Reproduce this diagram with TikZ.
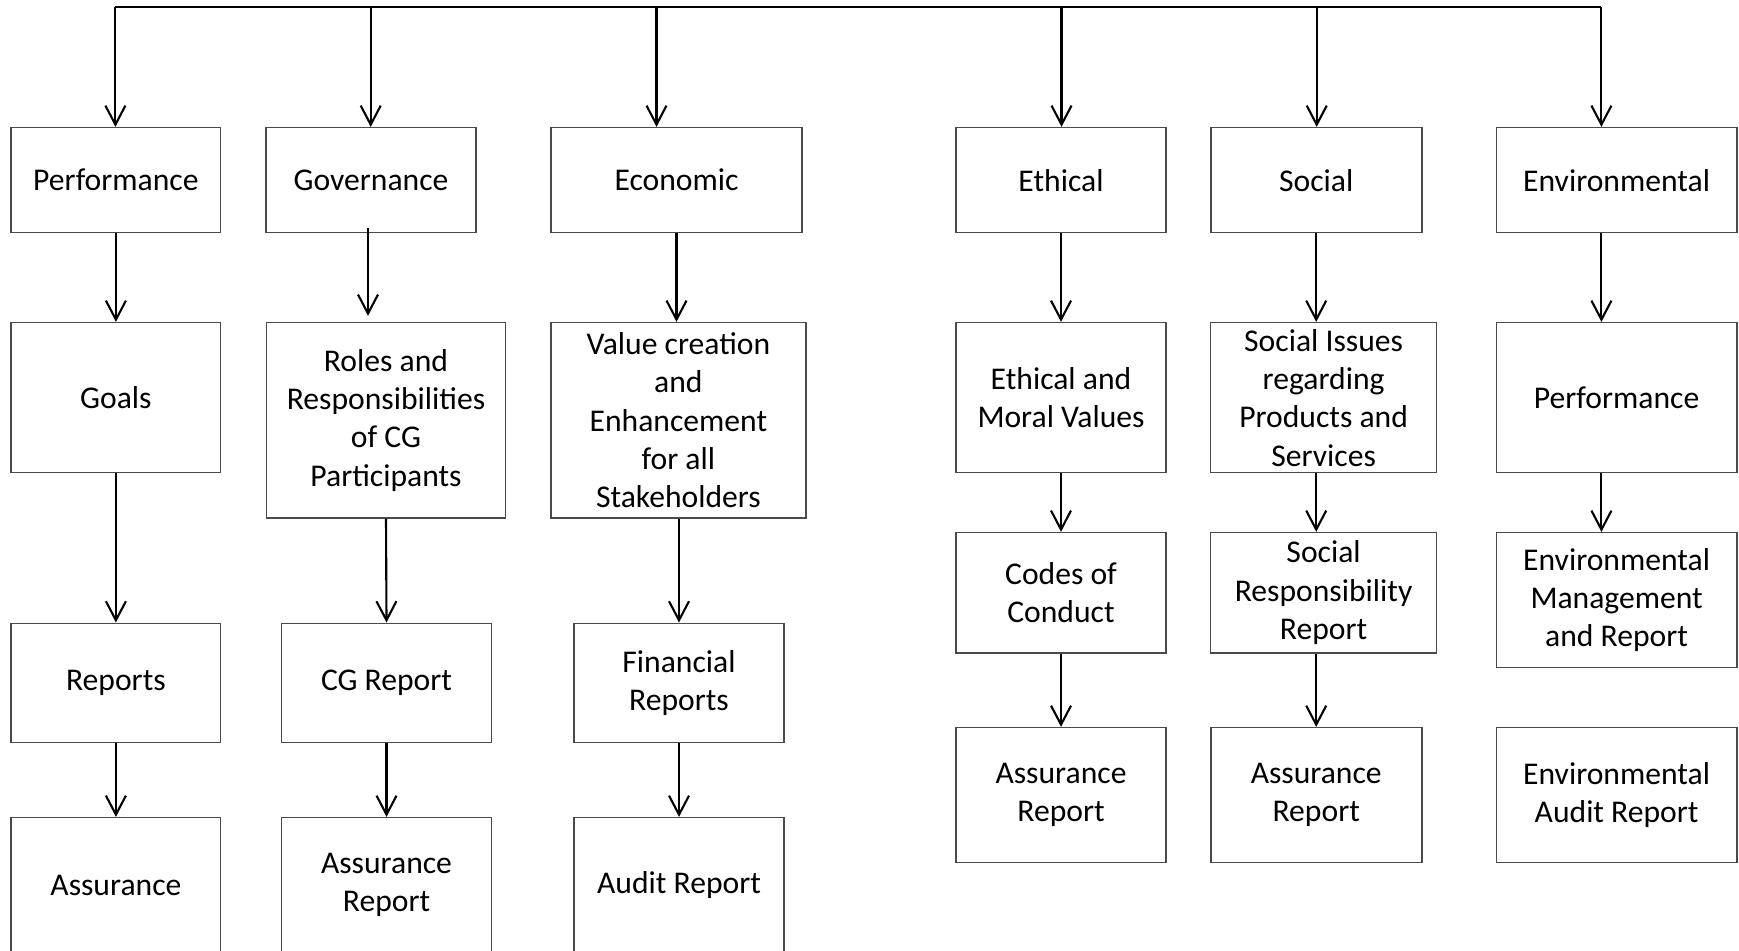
\documentclass[tikz,border=0pt]{standalone}
\usepackage{fontspec}
\setmainfont{Carlito}
\usepackage{tikz}
\usetikzlibrary{arrows.meta}
\usetikzlibrary{positioning}
\definecolor{cr-line}{HTML}{000000}
\definecolor{cr-frame}{HTML}{4A4A4A}

\begin{document}
\begin{tikzpicture}[
    % boxes and connectors
    box/.style={draw=cr-frame, line width=0.45pt, inner sep=0pt, align=center, font=\fontsize{9}{10.9}\selectfont},
    arr/.style={-{Straight Barb[length=1.9mm, width=2mm]}, line width=0.6pt, cr-line},
    busline/.style={line width=0.6pt, cr-line}
  ]
  \useasboundingbox (0,0) rectangle (17.39,-9.51);

  % =========================================================================
  % TOP BUS
  % =========================================================================
  \coordinate (bus1) at (1.154,-0.073);
  \coordinate (bus2) at (3.707,-0.073);
  \coordinate (bus3) at (6.565,-0.073);
  \coordinate (bus4) at (10.615,-0.073);
  \coordinate (bus5) at (13.167,-0.073);
  \coordinate (bus6) at (16.014,-0.073);
  \draw[busline] (bus1) -- (bus6);

  % =========================================================================
  % ROW 1: DIMENSIONS
  % =========================================================================
  \node[box, minimum width=2.096cm, minimum height=1.05cm] (perf) at (1.159,-1.802) {Performance};
  \node[box, minimum width=2.096cm, minimum height=1.05cm] (gov)  at (3.710,-1.802) {Governance};
  \node[box, minimum width=2.506cm, minimum height=1.05cm] (econ) at (6.765,-1.802) {Economic};
  \node[box, minimum width=2.10cm,  minimum height=1.05cm] (eth)  at (10.610,-1.802) {Ethical};
  \node[box, minimum width=2.11cm,  minimum height=1.05cm] (soc)  at (13.162,-1.802) {Social};
  \node[box, minimum width=2.403cm, minimum height=1.05cm] (env)  at (16.166,-1.802) {Environmental};

  % =========================================================================
  % ROW 2
  % =========================================================================
  \node[box, minimum width=2.096cm, minimum height=1.5cm]   (goals)     at (1.159,-3.977) {Goals};
  \node[box, minimum width=2.39cm,  minimum height=1.953cm] (roles)     at (3.860,-4.203) {Roles and\\Responsibilities\\of CG\\Participants};
  \node[box, minimum width=2.548cm, minimum height=1.953cm] (value)     at (6.784,-4.203) {Value creation\\and\\Enhancement\\for all\\Stakeholders};
  \node[box, minimum width=2.10cm,  minimum height=1.5cm]   (ethmoral)  at (10.610,-3.977) {Ethical and\\Moral Values};
  \node[box, minimum width=2.26cm,  minimum height=1.5cm]   (socissues) at (13.236,-3.977) {Social Issues\\regarding\\Products and\\Services};
  \node[box, minimum width=2.403cm, minimum height=1.5cm]   (envperf)   at (16.166,-3.977) {Performance};

  % =========================================================================
  % ROW 3
  % =========================================================================
  \node[box, minimum width=2.096cm, minimum height=1.194cm] (reports) at (1.159,-6.830) {Reports};
  \node[box, minimum width=2.103cm, minimum height=1.194cm] (cgrep)   at (3.865,-6.830) {CG Report};
  \node[box, minimum width=2.103cm, minimum height=1.194cm] (finrep)  at (6.790,-6.830) {Financial\\Reports};
  \node[box, minimum width=2.10cm,  minimum height=1.203cm] (codes)   at (10.610,-5.928) {Codes of\\Conduct};
  \node[box, minimum width=2.26cm,  minimum height=1.203cm] (srr)     at (13.236,-5.928) {Social\\Responsibility\\Report};
  \node[box, minimum width=2.403cm, minimum height=1.35cm]  (emr)     at (16.166,-6.002) {Environmental\\Management\\and Report};

  % =========================================================================
  % ROW 4
  % =========================================================================
  \node[box, minimum width=2.096cm, minimum height=1.35cm] (assur)    at (1.159,-8.852) {Assurance};
  \node[box, minimum width=2.103cm, minimum height=1.35cm] (assurcg)  at (3.865,-8.852) {Assurance\\Report};
  \node[box, minimum width=2.103cm, minimum height=1.35cm] (audit)    at (6.790,-8.852) {Audit Report};
  \node[box, minimum width=2.10cm,  minimum height=1.35cm] (assureth) at (10.610,-7.952) {Assurance\\Report};
  \node[box, minimum width=2.11cm,  minimum height=1.35cm] (assursoc) at (13.162,-7.952) {Assurance\\Report};
  \node[box, minimum width=2.403cm, minimum height=1.35cm] (envaudit) at (16.166,-7.952) {Environmental\\Audit Report};

  % =========================================================================
  % CONNECTORS
  % =========================================================================
  % Drops from the bus
  \draw[arr] (bus1) -- (bus1 |- perf.north);
  \draw[arr] (bus2) -- (bus2 |- gov.north);
  \draw[arr] (bus3) -- (bus3 |- econ.north);
  \draw[arr] (bus4) -- (bus4 |- eth.north);
  \draw[arr] (bus5) -- (bus5 |- soc.north);
  \draw[arr] (bus6) -- (bus6 |- env.north);

  % Performance column
  \draw[arr] (perf.south) -- (goals.north);
  \draw[arr] (goals.south) -- (reports.north);
  \draw[arr] (reports.south) -- (assur.north);

  % Governance column
  \draw[arr, transform canvas={xshift=-0.03cm}, shorten <=-0.05cm, shorten >=0.06cm] (gov.south) -- (gov.south |- roles.north);
  \draw[arr] (roles.south) -- (cgrep.north);
  \draw[arr] (cgrep.south) -- (assurcg.north);

  % Economic column
  \draw[arr] (econ.south) -- (econ.south |- value.north);
  \draw[arr] (finrep.north |- value.south) -- (finrep.north);
  \draw[arr] (finrep.south) -- (audit.north);

  % Ethical column
  \draw[arr] (eth.south) -- (ethmoral.north);
  \draw[arr] (ethmoral.south) -- (codes.north);
  \draw[arr] (codes.south) -- (assureth.north);

  % Social column
  \draw[arr] (soc.south) -- (soc.south |- socissues.north);
  \draw[arr] (soc.south |- socissues.south) -- (soc.south |- srr.north);
  \draw[arr] (assursoc.north |- srr.south) -- (assursoc.north);

  % Environmental column
  \draw[arr] (bus6 |- env.south) -- (bus6 |- envperf.north);
  \draw[arr] (bus6 |- envperf.south) -- (bus6 |- emr.north);

\end{tikzpicture}
\end{document}
